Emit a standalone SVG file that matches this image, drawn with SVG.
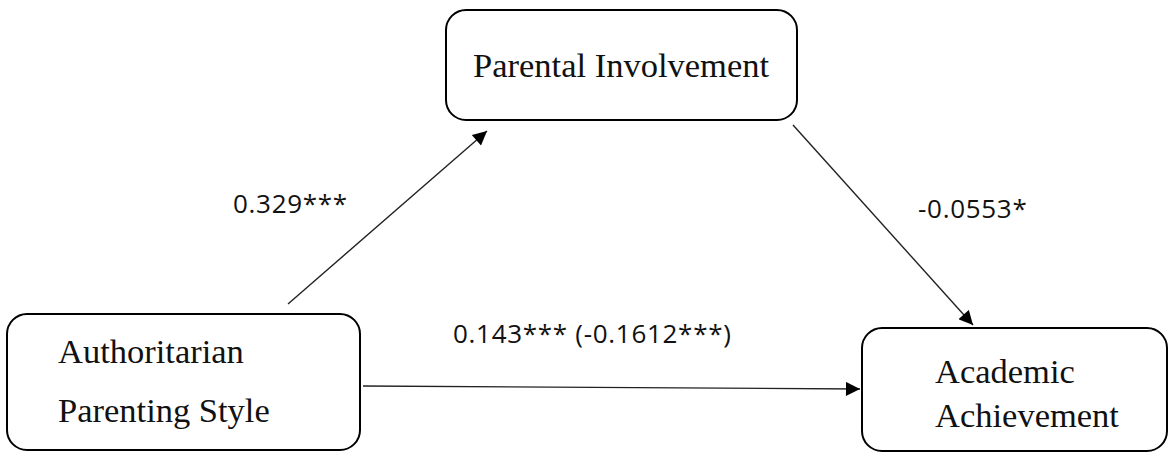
<svg xmlns="http://www.w3.org/2000/svg" width="1171" height="452" viewBox="0 0 1171 452">
<style>
.box{fill:#fff;stroke:#000;stroke-width:2}
.nt{font-family:"Liberation Serif","Times New Roman",serif;font-size:34.5px;fill:#111}
.el{font-family:"Open Sans","DejaVu Sans",sans-serif;font-size:26px;letter-spacing:0.7px;fill:#111}
.cn{stroke:#222;stroke-width:1.4;fill:none;marker-end:url(#ah)}
</style>
<defs>
<marker id="ah" viewBox="0 0 10 10" refX="10" refY="5" markerUnits="userSpaceOnUse" markerWidth="16" markerHeight="14" orient="auto">
<path d="M0,0 L10,5 L0,10 z" fill="#000"/>
</marker>
</defs>
<rect width="1171" height="452" fill="#fff"/>
<g id="connectors">
<line class="cn" x1="288" y1="304" x2="487" y2="131"/>
<line class="cn" x1="793" y1="125" x2="973" y2="325"/>
<line class="cn" x1="363" y1="386" x2="860" y2="389"/>
</g>
<g id="node-parental">
<rect class="box" x="446" y="10" width="351" height="110" rx="20"/>
<text class="nt" x="473" y="77">Parental Involvement</text>
</g>
<g id="node-authoritarian">
<rect class="box" x="7" y="314" width="353" height="136" rx="20"/>
<text class="nt" x="58" y="363">Authoritarian</text>
<text class="nt" x="58" y="422">Parenting Style</text>
</g>
<g id="node-academic">
<rect class="box" x="862" y="328" width="305" height="123" rx="20"/>
<text class="nt" x="935" y="383">Academic</text>
<text class="nt" x="935" y="427">Achievement</text>
</g>
<g id="labels">
<text class="el" x="233" y="213">0.329***</text>
<text class="el" x="918" y="218">-0.0553*</text>
<text class="el" x="453" y="343">0.143*** (-0.1612***)</text>
</g>
</svg>
